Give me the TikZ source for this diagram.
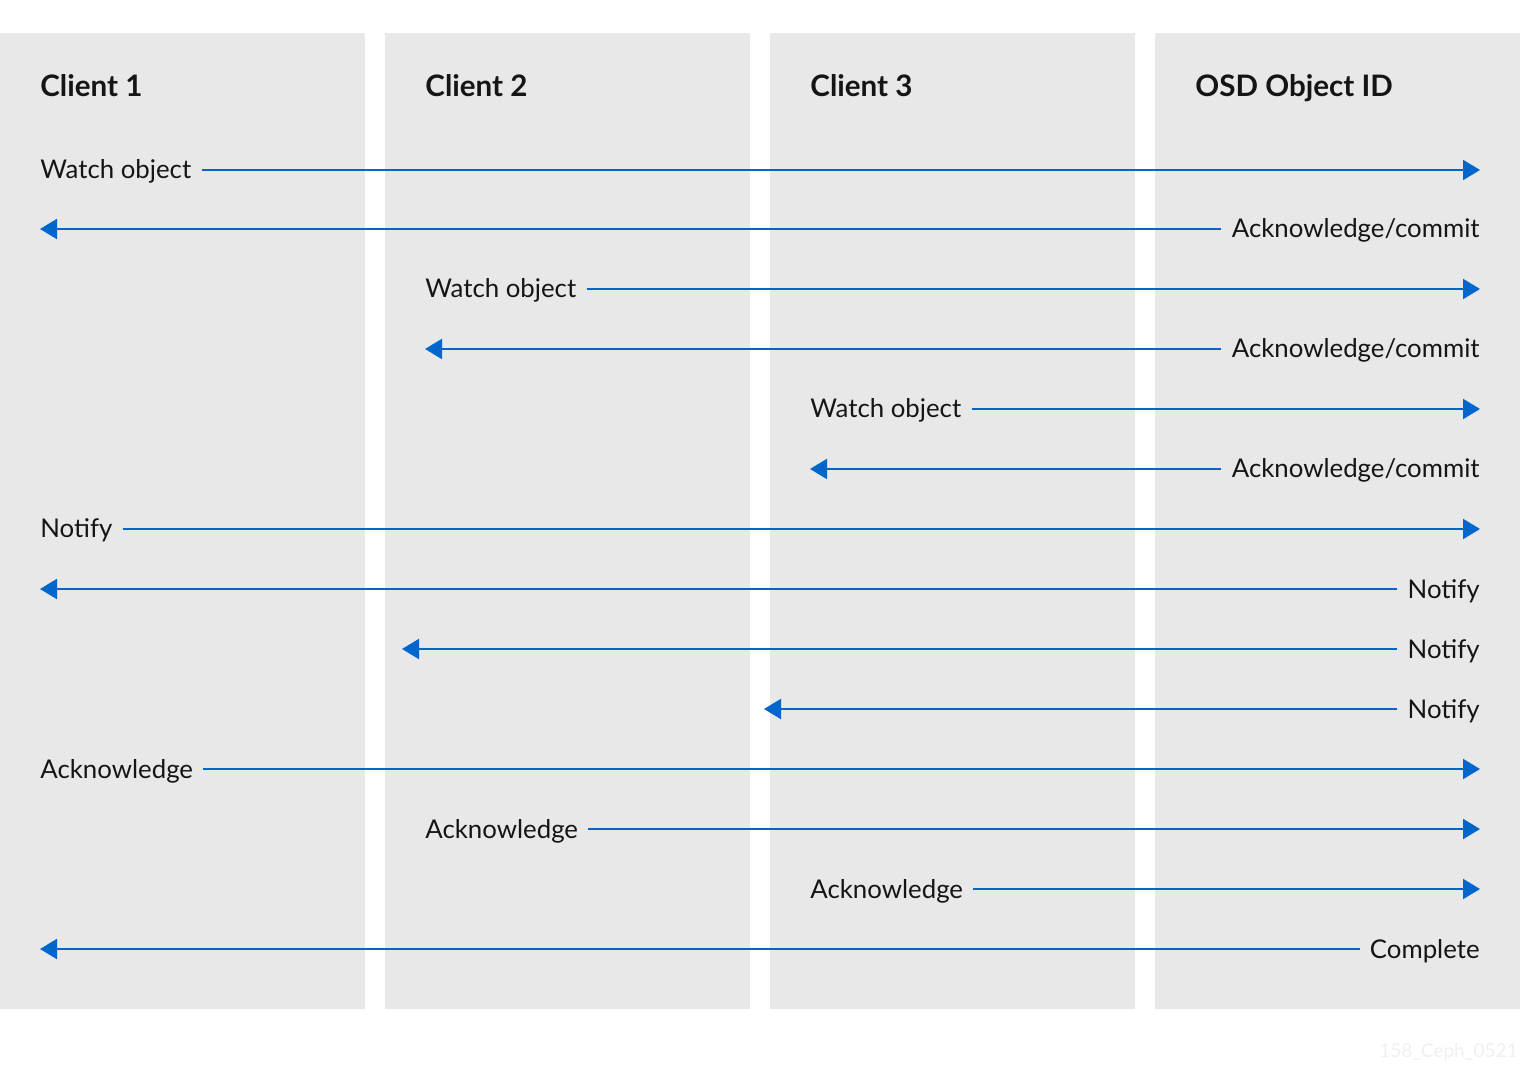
\documentclass[tikz,border=0pt]{standalone}
\usepackage{fontspec}
\setmainfont{Lato}
\usetikzlibrary{arrows.meta, positioning}
\definecolor{lanegray}{HTML}{E8E8E8}
\definecolor{flowblue}{HTML}{0066CC}
\definecolor{inkblack}{HTML}{151515}

\begin{document}
\begin{tikzpicture}[x=0.5pt, y=-0.5pt,
lane/.style={fill=lanegray},
header/.style={font=\fontsize{14.8}{17}\selectfont\bfseries, text=inkblack, anchor=base west, inner sep=0pt},
msg/.style={font=\fontsize{12.9}{15}\selectfont, text=inkblack, inner sep=0pt, text height=9pt, text depth=0pt},
arrow/.style={-{Triangle[length=8.5pt, width=10pt]}, draw=flowblue, fill=flowblue, line width=1pt, shorten <=5pt}
]
% Page and the four swim lanes
\fill[white] (0,0) rectangle (1520,1090);
\useasboundingbox (0,0) rectangle (1520,1090);
\fill[lane] (0,33) rectangle (365,1009);
\fill[lane] (385,33) rectangle (750,1009);
\fill[lane] (770,33) rectangle (1135,1009);
\fill[lane] (1155,33) rectangle (1520,1009);
% Lane headers
\node[header] (client1) at (40,97) {Client 1};
\node[header] (client2) at (425,97) {Client 2};
\node[header] (client3) at (810,97) {Client 3};
\node[header] (osd) at (1195,97) {OSD Object ID};
% Watch requests and their acknowledgements
\node[msg, anchor=west] (watch1) at (40,170) {Watch object};
\coordinate (watch1-end) at (1480,170);
\node[msg, anchor=east] (ackc1) at (1480,229) {Acknowledge/commit};
\coordinate (ackc1-end) at (40,229);
\node[msg, anchor=west] (watch2) at (425,289) {Watch object};
\coordinate (watch2-end) at (1480,289);
\node[msg, anchor=east] (ackc2) at (1480,349) {Acknowledge/commit};
\coordinate (ackc2-end) at (425,349);
\node[msg, anchor=west] (watch3) at (810,409) {Watch object};
\coordinate (watch3-end) at (1480,409);
\node[msg, anchor=east] (ackc3) at (1480,469) {Acknowledge/commit};
\coordinate (ackc3-end) at (810,469);
\draw[arrow] (watch1) -- (watch1-end);
\draw[arrow] (ackc1) -- (ackc1-end);
\draw[arrow] (watch2) -- (watch2-end);
\draw[arrow] (ackc2) -- (ackc2-end);
\draw[arrow] (watch3) -- (watch3-end);
\draw[arrow] (ackc3) -- (ackc3-end);
% Notifications sent out to the watchers
\node[msg, anchor=west] (notify0) at (40,529) {Notify};
\coordinate (notify0-end) at (1480,529);
\node[msg, anchor=east] (notify1) at (1480,589) {Notify};
\coordinate (notify1-end) at (40,589);
\node[msg, anchor=east] (notify2) at (1480,649) {Notify};
\coordinate (notify2-end) at (402,649);
\node[msg, anchor=east] (notify3) at (1480,709) {Notify};
\coordinate (notify3-end) at (764,709);
\draw[arrow] (notify0) -- (notify0-end);
\draw[arrow] (notify1) -- (notify1-end);
\draw[arrow] (notify2) -- (notify2-end);
\draw[arrow] (notify3) -- (notify3-end);
% Acknowledgements and completion
\node[msg, anchor=west] (ack1) at (40,769) {Acknowledge};
\coordinate (ack1-end) at (1480,769);
\node[msg, anchor=west] (ack2) at (425,829) {Acknowledge};
\coordinate (ack2-end) at (1480,829);
\node[msg, anchor=west] (ack3) at (810,889) {Acknowledge};
\coordinate (ack3-end) at (1480,889);
\node[msg, anchor=east] (complete) at (1480,949) {Complete};
\coordinate (complete-end) at (40,949);
\draw[arrow] (ack1) -- (ack1-end);
\draw[arrow] (ack2) -- (ack2-end);
\draw[arrow] (ack3) -- (ack3-end);
\draw[arrow] (complete) -- (complete-end);
% Figure tag
\node[anchor=base east, inner sep=0pt, font=\fontsize{9.5}{11}\selectfont, text=black!6] (tag) at (1518,1057) {158\_Ceph\_0521};
\end{tikzpicture}
\end{document}
